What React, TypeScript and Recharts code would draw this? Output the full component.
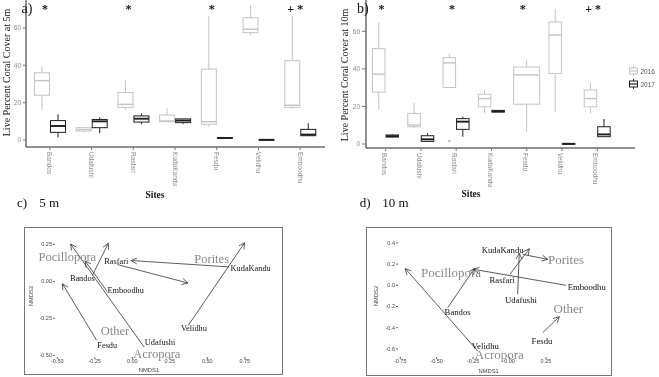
import { BarChart, Bar, XAxis, YAxis, Legend, ScatterChart, Scatter, ReferenceLine } from "recharts";

const SITES = ["Bandos", "Udafushi", "Rasfari", "KudaKandu", "Fesdu", "Velidhu", "Emboodhu"];
const YEARS = ["2016", "2017"];
const Y_TICKS = [0, 20, 40, 60];

// live coral cover boxes: [min, q1, median, q3, max] per site
const COVER_5M_2016 = [
  [16, 24, 31.8, 36, 39.6],
  [4.2, 4.8, 5.6, 6.6, 6.8],
  [16, 17.5, 19.1, 25.4, 32],
  [9.6, 9.8, 10.2, 13.4, 17],
  [7.1, 8.4, 9.8, 38, 66.4],
  [56.2, 57.5, 59.3, 65.5, 72.3],
  [16.8, 17.5, 18.6, 42.5, 66.4],
];
const COVER_5M_2017 = [
  [1.4, 4.1, 7.5, 10.4, 13.7],
  [3.6, 6.6, 10, 11, 12.1],
  [8.4, 9.6, 11.4, 12.9, 14.3],
  [8.6, 9.3, 10.4, 11.3, 11.4],
  [0.7, 0.9, 1.1, 1.3, 1.4],
  [0, 0.05, 0.1, 0.2, 0.3],
  [2.3, 2.3, 2.9, 5.7, 8.9],
];
const COVER_10M_2016 = [
  [18.4, 27.6, 37.2, 50.8, 64.8],
  [8.3, 9.2, 10.1, 16.3, 21.9],
  [30.1, 30.1, 43.2, 46, 48.1],
  [16.3, 19.8, 24.2, 26.5, 29],
  [6.5, 21.2, 36.8, 41, 45],
  [17.2, 37.5, 58, 65, 72],
  [16.3, 19.8, 24.2, 28.7, 32.7],
];
const COVER_10M_2017 = [
  [3.5, 3.7, 4.2, 4.8, 5.1],
  [1.2, 1.4, 2.5, 4.4, 5.7],
  [3.9, 7.8, 11.9, 13.5, 14.5],
  [16.9, 17, 17.4, 17.9, 18],
  null,
  [0, 0.05, 0.1, 0.2, 0.3],
  [3.9, 3.9, 5.1, 9.2, 13.3],
];
const OUTLIERS_5M_2016 = [[], [], [], [], [], [], []];
const OUTLIERS_10M_2016 = [[], [], [1.6], [], [], [], []];
const SIG_5M = ["*", "", "*", "", "*", "", "+ *"];
const SIG_10M = ["*", "", "*", "", "*", "", "+ *"];

// NMDS site shifts, arrow tail -> head: [x0, y0, x1, y1]
const ARROWS_5M = [
  [-0.238, -0.398, -0.466, -0.016],
  [0.078, -0.443, -0.411, 0.252],
  [-0.167, -0.068, -0.315, 0.138],
  [-0.267, 0.039, -0.16, 0.257],
  [-0.1, 0.114, 0.371, -0.011],
  [0.645, 0.098, -0.007, 0.141],
  [0.374, -0.296, 0.749, 0.261],
];
const SITES_5M = [
  { x: -0.333, y: 0.018, label: "Bandos" },
  { x: 0.185, y: -0.416, label: "Udafushi" },
  { x: -0.107, y: 0.132, label: "Rasfari" },
  { x: 0.789, y: 0.084, label: "KudaKandu" },
  { x: -0.167, y: -0.432, label: "Fesdu" },
  { x: 0.411, y: -0.318, label: "Velidhu" },
  { x: -0.044, y: -0.061, label: "Emboodhu" },
];
const TAXA_5M = [
  { x: -0.433, y: 0.166, label: "Pocillopora" },
  { x: 0.529, y: 0.152, label: "Porites" },
  { x: -0.115, y: -0.336, label: "Other" },
  { x: 0.163, y: -0.489, label: "Acropora" },
];
const ARROWS_10M = [
  [-0.218, -0.62, -0.715, 0.157],
  [-0.424, -0.211, -0.241, 0.157],
  [0.388, 0.0, -0.248, 0.151],
  [0.09, 0.292, 0.262, 0.245],
  [0.003, 0.104, 0.136, 0.345],
  [0.056, -0.085, 0.067, 0.302],
  [0.228, -0.447, 0.342, -0.296],
];
const SITES_10M = [
  { x: -0.356, y: -0.252, label: "Bandos" },
  { x: 0.079, y: -0.139, label: "Udafushi" },
  { x: -0.051, y: 0.05, label: "Rasfari" },
  { x: -0.047, y: 0.333, label: "KudaKandu" },
  { x: 0.223, y: -0.525, label: "Fesdu" },
  { x: -0.166, y: -0.573, label: "Velidhu" },
  { x: 0.53, y: -0.013, label: "Emboodhu" },
];
const TAXA_10M = [
  { x: -0.401, y: 0.119, label: "Pocillopora" },
  { x: 0.388, y: 0.239, label: "Porites" },
  { x: 0.404, y: -0.221, label: "Other" },
  { x: -0.07, y: -0.651, label: "Acropora" },
];
const TICKS_5M_X = [-0.5, -0.25, 0, 0.25, 0.5, 0.75];
const TICKS_5M_Y = [-0.5, -0.25, 0, 0.25];
const TICKS_10M_X = [-0.75, -0.5, -0.25, 0, 0.25];
const TICKS_10M_Y = [-0.6, -0.4, -0.2, 0, 0.2, 0.4];

const GRAY = "#c4c4c4";
const BLACK = "#1e1e1e";
const TICK = "#8c8c8c";
const SERIF = '"Liberation Serif", "Times New Roman", serif';
const SANS = '"Liberation Sans", Arial, sans-serif';

function makeRows(s16: any[], s17: any[], out16: number[][], sig: string[]) {
  return SITES.map((site, i) => ({
    site,
    s16: s16[i],
    s17: s17[i],
    o16: out16[i],
    sig: sig[i],
    r16: s16[i] ? [s16[i][0], s16[i][4]] : null,
    r17: s17[i] ? [s17[i][0], s17[i][4]] : null,
  }));
}

function boxShape(key: "s16" | "s17", color: string, starLevel?: number, starDx = 0) {
  return (p: any) => {
    const { x, y, width, height, payload } = p;
    const s = payload?.[key];
    if (!s || !isFinite(y)) return <g />;
    const [mn, q1, md, q3, mx] = s;
    const span = mx - mn;
    const py = (v: number) => (span === 0 ? y : y + ((mx - v) / span) * height);
    const other = key === "s16" ? payload.s17 : payload.s16;
    let bx = x;
    let bw = width;
    if (!other) {
      bx = key === "s16" ? x : x - width;
      bw = width * 2;
    }
    const cx = bx + bw / 2;
    const top = py(q3);
    const bot = py(q1);
    const groupCenter = key === "s16" ? x + width : x;
    const outs: number[] = key === "s16" ? payload.o16 || [] : [];
    return (
      <g>
        <line x1={cx} x2={cx} y1={py(mx)} y2={top} stroke={color} strokeWidth={1} />
        <line x1={cx} x2={cx} y1={bot} y2={py(mn)} stroke={color} strokeWidth={1} />
        <rect x={bx + 0.5} y={top} width={bw - 1} height={Math.max(bot - top, 0.6)} fill="#fff" stroke={color} strokeWidth={1} />
        <line x1={bx + 0.5} x2={bx + bw - 0.5} y1={py(md)} y2={py(md)} stroke={color} strokeWidth={key === "s16" ? 1.4 : 1.9} />
        {outs.map((o, i) => (
          <circle key={i} cx={cx} cy={py(o)} r={1.3} fill={color} />
        ))}
        {starLevel !== undefined && payload.sig ? (
          <text x={groupCenter + starDx} y={py(starLevel)} textAnchor="middle" fontFamily={SERIF} fontWeight="bold" fontSize={12} fill="#111">
            {payload.sig}
          </text>
        ) : null}
      </g>
    );
  };
}

const RotTick = (p: any) => {
  const { x, y, payload, dx } = p;
  const tx = x + (dx || 0);
  return (
    <text x={tx} y={y} transform={`rotate(90 ${tx} ${y})`} textAnchor="start" dominantBaseline="central" fontSize={6.5} fill={TICK} fontFamily={SANS}>
      {payload.value}
    </text>
  );
};

const BoxLegend = () => (
  <svg width={40} height={26}>
    {YEARS.map((yr, i) => {
      const c = i === 0 ? GRAY : BLACK;
      const y0 = i * 13;
      return (
        <g key={yr}>
          <line x1={4.5} x2={4.5} y1={y0 + 1} y2={y0 + 11} stroke={c} />
          <rect x={0.5} y={y0 + 3} width={8} height={6} fill="#fff" stroke={c} />
          <line x1={0.5} x2={8.5} y1={y0 + 6} y2={y0 + 6} stroke={c} strokeWidth={1.2} />
          <text x={11.5} y={y0 + 6} dominantBaseline="central" fontSize={6.5} fill="#555" fontFamily={SANS}>
            {yr}
          </text>
        </g>
      );
    })}
  </svg>
);

function BoxPanel(props: any) {
  const { data, margin, yWidth, xHeight, domain, pad, barSize, tickDx, starLevel, starDx, ySize, legend } = props;
  return (
    <BarChart width={330} height={190} data={data} margin={margin} barGap={0} barSize={barSize}>
      <XAxis
        dataKey="site"
        interval={0}
        padding={pad}
        height={xHeight}
        tickSize={3}
        tickMargin={2}
        axisLine={{ stroke: "#222" }}
        tickLine={{ stroke: "#777" }}
        tick={(p: any) => <RotTick {...p} dx={tickDx} />}
      />
      <YAxis
        type="number"
        domain={domain}
        ticks={Y_TICKS}
        interval={0}
        width={yWidth}
        tickSize={ySize}
        tickMargin={2}
        axisLine={{ stroke: "#222" }}
        tickLine={{ stroke: "#777" }}
        tick={{ fontSize: 6.5, fill: TICK, fontFamily: SANS }}
      />
      <Bar dataKey={(d: any) => d.r16} name="2016" fill={GRAY} isAnimationActive={false} shape={boxShape("s16", GRAY, starLevel, starDx)} />
      <Bar dataKey={(d: any) => d.r17} name="2017" fill={BLACK} isAnimationActive={false} shape={boxShape("s17", BLACK)} />
      {legend ? (
        <Legend layout="vertical" align="center" verticalAlign="middle" wrapperStyle={{ left: legend.left, top: legend.top, width: 40, height: 26 }} content={() => <BoxLegend />} />
      ) : null}
    </BarChart>
  );
}

const Arrow = (p: any) => {
  const { x1, y1, x2, y2 } = p;
  if (![x1, y1, x2, y2].every((v) => isFinite(v))) return <g />;
  const a = Math.atan2(y2 - y1, x2 - x1);
  const L = 6.5;
  const w = Math.PI / 6.5;
  const h1 = `${x2 - L * Math.cos(a - w)},${y2 - L * Math.sin(a - w)}`;
  const h2 = `${x2 - L * Math.cos(a + w)},${y2 - L * Math.sin(a + w)}`;
  return (
    <g stroke="#333" strokeWidth={0.8} fill="none">
      <line x1={x1} y1={y1} x2={x2} y2={y2} />
      <polyline points={`${h1} ${x2},${y2} ${h2}`} />
    </g>
  );
};

const textShape = (size: number, color: string) => (p: any) => (
  <text x={p.cx} y={p.cy} textAnchor="middle" dominantBaseline="central" fontFamily={SERIF} fontSize={size} fill={color}>
    {p.payload.label}
  </text>
);

function NmdsPanel(props: any) {
  const { arrows, sites, taxa, xDomain, yDomain, xTicks, yTicks, yWidth, margin, yDigits, siteSize, taxaSize } = props;
  const fmtX = (v: number) => v.toFixed(2);
  const fmtY = (v: number) => v.toFixed(yDigits);
  return (
    <ScatterChart width={330} height={187} margin={margin}>
      <XAxis type="number" dataKey="x" domain={xDomain} ticks={xTicks} interval={0} height={20} tickSize={2} tickMargin={0} axisLine={false} tickLine={{ stroke: "#666" }} tickFormatter={fmtX} tick={{ fontSize: 5.5, fill: "#444", fontFamily: SANS }} />
      <YAxis type="number" dataKey="y" domain={yDomain} ticks={yTicks} interval={0} width={yWidth} tickSize={2} tickMargin={1} axisLine={false} tickLine={{ stroke: "#666" }} tickFormatter={fmtY} tick={{ fontSize: 5.5, fill: "#444", fontFamily: SANS }} />
      {arrows.map((a: number[], i: number) => (
        <ReferenceLine key={i} segment={[{ x: a[0], y: a[1] }, { x: a[2], y: a[3] }]} ifOverflow="visible" shape={Arrow} />
      ))}
      <Scatter data={taxa} isAnimationActive={false} shape={textShape(taxaSize, "#8a8a8a")} />
      <Scatter data={sites} isAnimationActive={false} shape={textShape(siteSize, "#111")} />
    </ScatterChart>
  );
}

export default function App() {
  const data5 = makeRows(COVER_5M_2016, COVER_5M_2017, OUTLIERS_5M_2016, SIG_5M);
  const data10 = makeRows(COVER_10M_2016, COVER_10M_2017, OUTLIERS_10M_2016, SIG_10M);
  const abs = (left: number, top: number) => ({ position: "absolute" as const, left, top });
  return (
    <div style={{ position: "absolute", left: 0, top: 0, width: 659, height: 377, background: "#fff", overflow: "hidden", filter: "grayscale(100%)" }}>
      <div style={abs(0, 0)}>
        <BoxPanel data={data5} margin={{ top: 0, right: 5, left: 0, bottom: 0 }} yWidth={26} xHeight={43} domain={[-3.75, 75]} pad={{ left: 3, right: 4 }} barSize={16} tickDx={0} starLevel={68.3} starDx={-5} ySize={3} />
      </div>
      <div style={abs(329, 0)}>
        <BoxPanel data={data10} margin={{ top: 0, right: 24, left: 0, bottom: 0 }} yWidth={37} xHeight={42} domain={[-2.13, 76.68]} pad={{ left: 2, right: 20 }} barSize={13.5} tickDx={-1.5} starLevel={70} starDx={-4} ySize={4} legend={{ left: 300, top: 65 }} />
      </div>
      <div style={{ ...abs(24, 226.5), width: 259, height: 148.5, border: "1px solid #777", boxSizing: "border-box" }} />
      <div style={{ ...abs(366, 226.5), width: 246, height: 149, border: "1px solid #777", boxSizing: "border-box" }} />
      <div style={abs(0, 190)}>
        <NmdsPanel arrows={ARROWS_5M} sites={SITES_5M} taxa={TAXA_5M} xDomain={[-0.5153, 0.9513]} yDomain={[-0.5112, 0.334]} xTicks={TICKS_5M_X} yTicks={TICKS_5M_Y} yWidth={55} margin={{ top: 42, right: 55, left: 0, bottom: 0 }} yDigits={2} siteSize={8.3} taxaSize={12.5} />
      </div>
      <div style={abs(329, 190)}>
        <NmdsPanel arrows={ARROWS_10M} sites={SITES_10M} taxa={TAXA_10M} xDomain={[-0.7653, 0.6555]} yDomain={[-0.6764, 0.5028]} xTicks={TICKS_10M_X} yTicks={TICKS_10M_Y} yWidth={69} margin={{ top: 42, right: 54, left: 0, bottom: 0 }} yDigits={1} siteSize={8.7} taxaSize={13} />
      </div>
      <svg width={659} height={377} style={{ position: "absolute", left: 0, top: 0, pointerEvents: "none" }}>
        <g fontFamily={SERIF} fill="#111">
          <text x={21.5} y={12.5} fontSize={14}>a)</text>
          <text x={357} y={13} fontSize={14}>b)</text>
          <text x={6} y={72.5} fontSize={10} textAnchor="middle" dominantBaseline="central" transform="rotate(-90 6 72.5)">Live Percent Coral Cover at 5m</text>
          <text x={344} y={75} fontSize={10} textAnchor="middle" dominantBaseline="central" transform="rotate(-90 344 75)">Live Percent Coral Cover at 10m</text>
          <text x={155} y={194.5} fontSize={9.5} fontWeight="bold" textAnchor="middle" dominantBaseline="central">Sites</text>
          <text x={471} y={194} fontSize={9.5} fontWeight="bold" textAnchor="middle" dominantBaseline="central">Sites</text>
          <text x={17} y={207} fontSize={13}>c)</text>
          <text x={39.3} y={207} fontSize={13}>5 m</text>
          <text x={359.7} y={207} fontSize={13}>d)</text>
          <text x={382.3} y={207} fontSize={13}>10 m</text>
        </g>
        <g fontFamily={SANS} fill="#444" fontSize={5.8}>
          <text x={149} y={369.5} textAnchor="middle" dominantBaseline="central">NMDS1</text>
          <text x={488.7} y={370.5} textAnchor="middle" dominantBaseline="central">NMDS1</text>
          <text x={31.3} y={296} textAnchor="middle" dominantBaseline="central" transform="rotate(-90 31.3 296)">NMDS2</text>
          <text x={376} y={296} textAnchor="middle" dominantBaseline="central" transform="rotate(-90 376 296)">NMDS2</text>
        </g>
      </svg>
    </div>
  );
}
